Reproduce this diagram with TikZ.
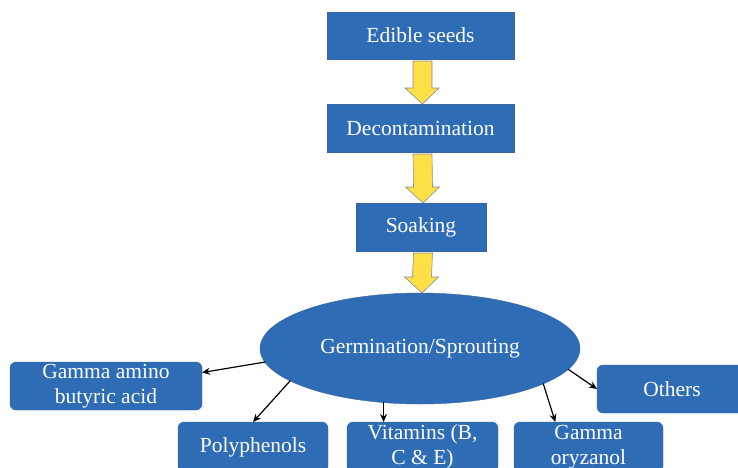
\documentclass[tikz,border=0pt]{standalone}
\usepackage{fontspec}
\setmainfont{Liberation Serif}
\usepackage{tikz}
\usetikzlibrary{arrows.meta, calc, shapes.geometric}
\definecolor{boxBlue}{RGB}{46,108,181}
\definecolor{boxEdge}{RGB}{60,100,160}
\definecolor{arrowYellow}{RGB}{255,223,70}
\definecolor{arrowEdge}{RGB}{130,140,160}
\tikzset{
	stepbox/.style={draw=boxEdge, fill=boxBlue, text=white, inner sep=0pt, outer sep=0pt, align=center, font=\fontsize{21.5}{25}\selectfont},
	endbox/.style={stepbox, rounded corners=6pt},
	yarrow/.style={draw=arrowEdge, fill=arrowYellow, line width=0.6pt, line join=miter},
	link/.style={-{Stealth[length=8pt, width=7pt]}, line width=1.2pt, black}
}
% block arrow from one stage to the next
\newcommand{\flowarrow}[2]{%
	\filldraw[yarrow] ($(#1.south)+(-7.5,2)$) -- ($(#2.north)+(-7.5,-16)$) -- ($(#2.north)+(-15.5,-16)$) -- ($(#2.north)+(2,0)$) -- ($(#2.north)+(18.5,-16)$) -- ($(#2.north)+(11.5,-16)$) -- ($(#1.south)+(11.5,2)$) -- cycle;}

\begin{document}
\begin{tikzpicture}[x=1pt, y=-1pt, line cap=round]
	\useasboundingbox (0,0) rectangle (738,467);
	\clip (0,0) rectangle (738,467);

	\node[stepbox, minimum width=187pt, minimum height=47pt] (seeds) at (420.5,35.5) {Edible seeds};
	\node[stepbox, minimum width=187pt, minimum height=48pt] (decon) at (420.5,128) {Decontamination};
	\node[stepbox, minimum width=130pt, minimum height=48pt] (soak) at (421,227) {Soaking};
	\node[stepbox, ellipse, minimum width=320pt, minimum height=111pt] (germ) at (420,348.5) {Germination/Sprouting};

	\flowarrow{seeds}{decon}
	\flowarrow{decon}{soak}
	\flowarrow{soak}{germ}

	\node[endbox, minimum width=192pt, minimum height=48pt] (gaba) at (106,386) {Gamma amino\\butyric acid};
	\node[endbox, minimum width=150pt, minimum height=50pt] (poly) at (253,447) {Polyphenols};
	\node[endbox, minimum width=151pt, minimum height=50pt] (vit) at (422.5,447) {Vitamins (B,\\C \& E)};
	\node[endbox, minimum width=149pt, minimum height=50pt] (oryz) at (588.5,447) {Gamma\\oryzanol};
	\node[endbox, minimum width=150pt, minimum height=48pt] (others) at (672,389) {Others};

	\draw[link] (germ.185) -- (gaba.8);
	\draw[link] (germ.194) -- (poly.north);
	\draw[link] (germ.236) -- (germ.236 |- vit.north);
	\draw[link] (germ.344) -- (oryz.143);
	\draw[link] (germ.352) -- (others.west);

\end{tikzpicture}
\end{document}
